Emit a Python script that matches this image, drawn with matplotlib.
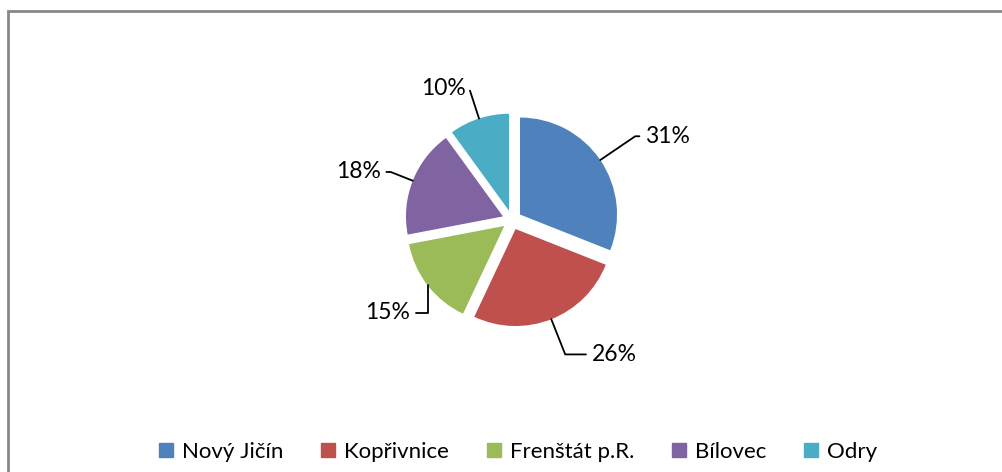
import numpy as np
import matplotlib.pyplot as plt
from matplotlib.patches import Rectangle

plt.rcParams['font.family'] = ['Lato', 'DejaVu Sans']

labels = ['Nový Jičín', 'Kopřivnice', 'Frenštát p.R.', 'Bílovec', 'Odry']
shares = [31, 26, 15, 18, 10]
colors = ['#4F81BD', '#C0504D', '#9BBB59', '#8064A2', '#4BACC6']

W, H = 1002, 472
cx, cy, r = 512, 220, 97  # pie centre / radius in pixels (from top)

fig = plt.figure(figsize=(W / 100, H / 100), dpi=100)
ax = fig.add_axes([0, 0, 1, 1])

wedges, _ = ax.pie(shares, colors=colors, startangle=90, counterclock=False,
                   explode=[0.1] * len(shares), radius=1,
                   wedgeprops=dict(linewidth=0))

# one data unit = r pixels, pie at (0, 0)
ax.set_xlim(-cx / r, (W - cx) / r)
ax.set_ylim(-(H - cy) / r, cy / r)
ax.set_aspect('equal')
ax.axis('off')

# label radius / angle offset / leader bend, mimicking Excel best-fit labels
lab_r = [1.62, 1.61, 1.42, 1.44, 1.44]
lab_da = [-2, 9, 4.6, 1.5, 1.2]
bend = [None, None, 90, None, None]
for w, val, lr, da, b in zip(wedges, shares, lab_r, lab_da, bend):
    mid = (w.theta1 + w.theta2) / 2
    t = np.deg2rad(mid)
    px, py = 1.1 * np.cos(t), 1.1 * np.sin(t)
    ta = np.deg2rad(mid + da)
    tx, ty = lr * np.cos(ta), lr * np.sin(ta)
    ha = 'left' if np.cos(ta) > 0 else 'right'
    angB = mid if b is None else b
    ax.annotate(f'{val}%', xy=(px, py), xytext=(tx, ty), ha=ha, va='center',
                fontsize=16.5, color='black',
                arrowprops=dict(arrowstyle='-', color='black', lw=1.3,
                                shrinkA=2, shrinkB=0,
                                connectionstyle=f'angle,angleA=0,angleB={angB},rad=0'))

# chart border (cut off at right and bottom)
fig.patches.append(Rectangle((7.5 / W, -0.05), 1.1, 1 - 10.5 / H + 0.05,
                             transform=fig.transFigure, fill=False,
                             edgecolor='#888888', linewidth=2))

handles = [Rectangle((0, 0), 1, 1, color=c) for c in colors]
fig.legend(handles, labels, loc='center', bbox_to_anchor=(518 / W, 1 - 452 / H),
           ncol=5, frameon=False, fontsize=16, handlelength=0.63, handleheight=0.63,
           handletextpad=0.4, columnspacing=1.7)

fig.savefig('out.png', dpi=100)
